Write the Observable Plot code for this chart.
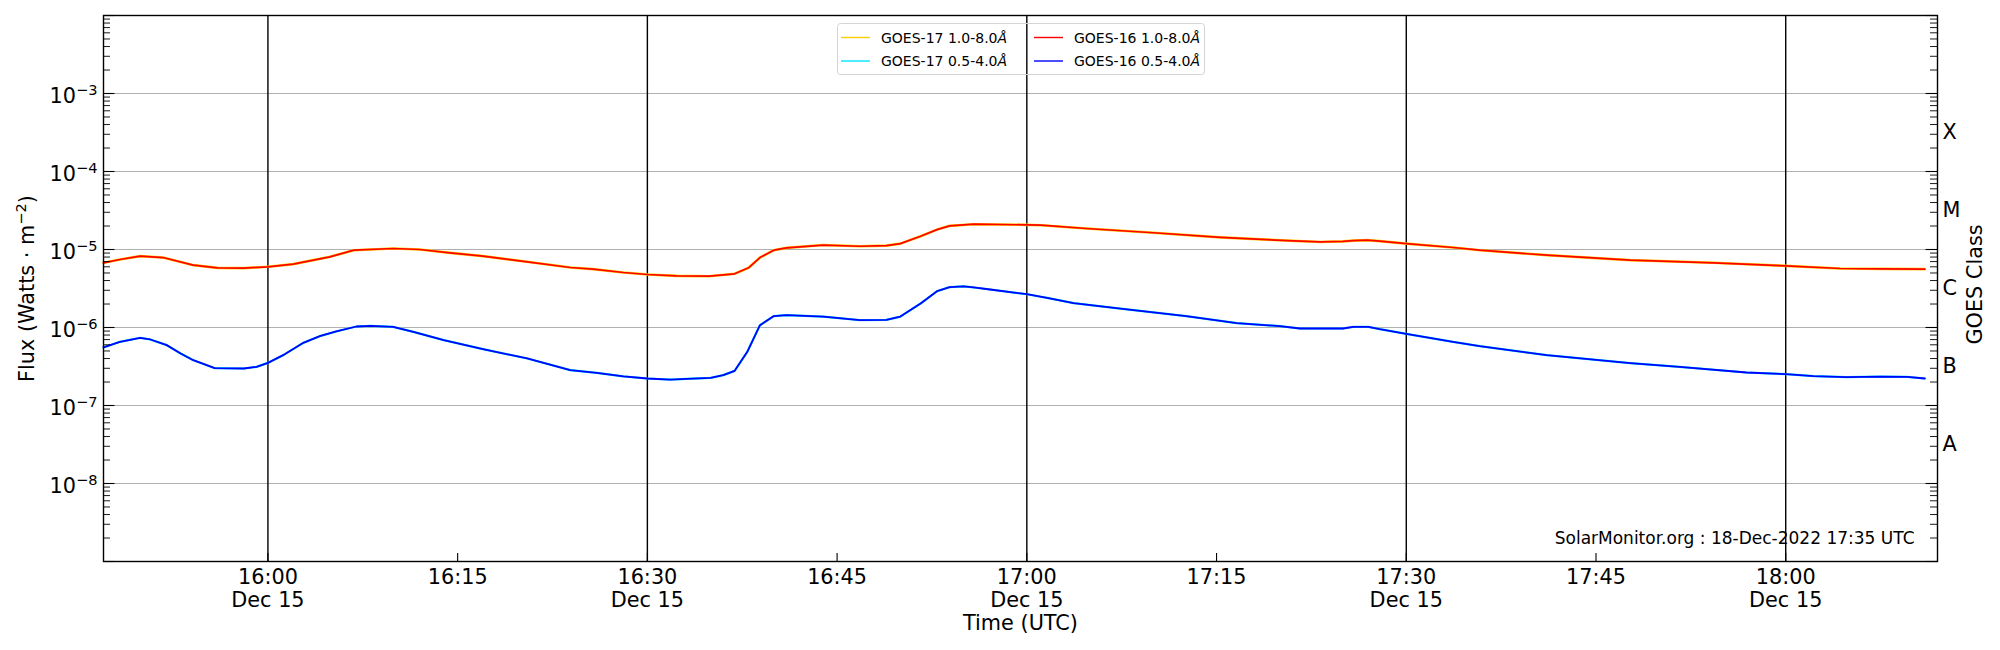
<!DOCTYPE html>
<html><head><meta charset="utf-8">
<script src="https://cdn.jsdelivr.net/npm/d3@7"></script>
<script src="https://cdn.jsdelivr.net/npm/@observablehq/plot@0.6"></script>
<style>
body{margin:0;background:#fff}
#wrap{position:relative;width:2000px;height:650px;font-family:"DejaVu Sans",sans-serif}
#legend{position:absolute;left:837px;top:23px}
</style>
</head><body><div id="wrap"></div>
<script>
// ---------- data ----------
const day = "2022-12-15";
const xDomain = ["15:47:00", "18:12:00"];
const yDomain = [1e-9, 1e-2];

// GOES-16 1.0-8.0 Å (long channel)
const g16LongTimes = ["15:47:00","15:48:18","15:49:54","15:51:42","15:54:06","15:56:00","15:58:06","16:00:00","16:02:00","16:04:54","16:06:48","16:09:54","16:12:00","16:14:24","16:17:00","16:20:30","16:23:54","16:25:42","16:28:06","16:30:00","16:32:18","16:34:54","16:36:54","16:38:00","16:38:54","16:40:00","16:41:00","16:43:54","16:46:48","16:48:54","16:50:00","16:51:36","16:52:54","16:53:54","16:55:48","17:00:00","17:01:06","17:04:42","17:10:00","17:15:18","17:20:36","17:23:12","17:25:00","17:25:48","17:26:54","17:27:54","17:30:00","17:33:42","17:35:48","17:41:06","17:47:42","17:54:18","18:00:00","18:04:18","18:07:30","18:11:00"];
const g16LongFlux = [6.75e-6,7.44e-6,8.22e-6,7.89e-6,6.30e-6,5.82e-6,5.77e-6,6.00e-6,6.49e-6,8.05e-6,9.80e-6,1.03e-5,1.00e-5,9.06e-6,8.22e-6,6.95e-6,5.88e-6,5.60e-6,5.07e-6,4.78e-6,4.59e-6,4.55e-6,4.88e-6,5.82e-6,7.89e-6,9.80e-6,1.05e-5,1.14e-5,1.10e-5,1.12e-5,1.19e-5,1.48e-5,1.80e-5,2.01e-5,2.11e-5,2.07e-5,2.05e-5,1.86e-5,1.64e-5,1.43e-5,1.30e-5,1.25e-5,1.27e-5,1.30e-5,1.32e-5,1.28e-5,1.19e-5,1.06e-5,9.80e-6,8.46e-6,7.30e-6,6.75e-6,6.17e-6,5.71e-6,5.65e-6,5.60e-6];

// GOES-16 0.5-4.0 Å (short channel)
const g16ShortTimes = ["15:47:00","15:48:18","15:49:54","15:50:42","15:52:00","15:53:06","15:54:06","15:55:48","15:58:06","15:59:06","16:00:00","16:01:12","16:02:48","16:04:06","16:05:24","16:07:00","16:08:06","16:09:54","16:11:30","16:13:54","16:17:00","16:20:30","16:23:54","16:26:00","16:28:06","16:30:00","16:31:48","16:33:06","16:35:00","16:36:00","16:36:54","16:37:54","16:38:54","16:40:00","16:41:00","16:43:54","16:46:48","16:48:54","16:50:00","16:51:36","16:52:54","16:53:54","16:55:00","16:55:48","16:57:06","17:00:00","17:01:36","17:03:42","17:07:24","17:12:36","17:16:36","17:20:00","17:21:36","17:25:00","17:25:48","17:27:00","17:27:54","17:30:00","17:33:42","17:35:48","17:41:06","17:47:42","17:51:36","17:56:54","18:00:00","18:02:12","18:04:48","18:07:30","18:09:36","18:11:00"];
const g16ShortFlux = [5.55e-7,6.55e-7,7.38e-7,7.02e-7,5.94e-7,4.65e-7,3.81e-7,3.01e-7,2.98e-7,3.13e-7,3.52e-7,4.42e-7,6.36e-7,7.74e-7,8.89e-7,1.03e-6,1.05e-6,1.02e-6,8.80e-7,6.88e-7,5.28e-7,4.01e-7,2.84e-7,2.62e-7,2.36e-7,2.22e-7,2.15e-7,2.20e-7,2.26e-7,2.45e-7,2.78e-7,4.88e-7,1.07e-6,1.40e-6,1.44e-6,1.38e-6,1.24e-6,1.25e-6,1.38e-6,2.03e-6,2.92e-6,3.29e-6,3.36e-6,3.26e-6,3.07e-6,2.67e-6,2.40e-6,2.05e-6,1.75e-6,1.40e-6,1.14e-6,1.04e-6,9.71e-7,9.71e-7,1.02e-6,1.02e-6,9.53e-7,8.30e-7,6.55e-7,5.77e-7,4.42e-7,3.49e-7,3.13e-7,2.65e-7,2.52e-7,2.38e-7,2.31e-7,2.35e-7,2.33e-7,2.22e-7];

// GOES-17 traces lie on top of the GOES-16 ones at this resolution
const g17LongTimes = g16LongTimes, g17LongFlux = g16LongFlux;
const g17ShortTimes = g16ShortTimes, g17ShortFlux = g16ShortFlux;

const xTickTimes = ["16:00","16:15","16:30","16:45","17:00","17:15","17:30","17:45","18:00"];
const xTickLabels = ["16:00\nDec 15","16:15","16:30\nDec 15","16:45","17:00\nDec 15","17:15","17:30\nDec 15","17:45","18:00\nDec 15"];
const dayLines = ["16:00","16:30","17:00","17:30","18:00"];
const yTickExps = [-8,-7,-6,-5,-4,-3];
const gridFlux = [1e-8,1e-7,1e-6,1e-5,1e-4,1e-3];
const classNames = ["A","B","C","M","X"];
const classPos = [3.16e-8,3.16e-7,3.16e-6,3.16e-5,3.16e-4];
const stamp = "SolarMonitor.org : 18-Dec-2022 17:35 UTC";

// ---------- build ----------
const T = s => new Date(`${day}T${s.length === 5 ? s + ":00" : s}Z`);
const series = (times, flux) => times.map((t, i) => ({t: T(t), v: flux[i]}));
const long16 = series(g16LongTimes, g16LongFlux), short16 = series(g16ShortTimes, g16ShortFlux);
const long17 = series(g17LongTimes, g17LongFlux), short17 = series(g17ShortTimes, g17ShortFlux);

const W = 2000, H = 650, mL = 103, mR = 63, mT = 15, mB = 89;
const pw = W - mL - mR, ph = H - mT - mB;
const allTicks = d3.scaleLog().domain(yDomain).ticks();
const isDecade = v => Math.abs(Math.log10(v) - Math.round(Math.log10(v))) < 1e-6;
const major = allTicks.filter(isDecade), minor = allTicks.filter(v => !isDecade(v));

const chart = Plot.plot({
  width: W, height: H,
  marginLeft: mL, marginRight: mR, marginTop: mT, marginBottom: mB,
  style: {fontFamily: "DejaVu Sans", fontSize: "20.8px", background: "white", color: "black", overflow: "visible"},
  x: {type: "utc", domain: xDomain.map(T), axis: null},
  y: {type: "log", domain: yDomain, axis: null},
  marks: [
    Plot.ruleY(gridFlux, {y: d => d, stroke: "#b0b0b0", strokeWidth: 1.1}),
    Plot.ruleX(dayLines, {x: d => T(d), stroke: "black", strokeWidth: 1.4}),
    Plot.line(long17, {x: "t", y: "v", stroke: "#ffcc00", strokeWidth: 2.6}),
    Plot.line(short17, {x: "t", y: "v", stroke: "#00e5ff", strokeWidth: 2.2}),
    Plot.line(long16, {x: "t", y: "v", stroke: "#ff0000", strokeWidth: 1.7}),
    Plot.line(short16, {x: "t", y: "v", stroke: "#0000ff", strokeWidth: 1.8}),
    // inward ticks
    Plot.tickY(major, {y: d => d, insetRight: pw - 11.5, stroke: "black", strokeWidth: 1.1}),
    Plot.tickY(minor, {y: d => d, insetRight: pw - 7, stroke: "black", strokeWidth: 0.9}),
    Plot.tickY(major, {y: d => d, insetLeft: pw - 11.5, stroke: "black", strokeWidth: 1.1}),
    Plot.tickY(minor, {y: d => d, insetLeft: pw - 7, stroke: "black", strokeWidth: 0.9}),
    Plot.tickX(xTickTimes, {x: d => T(d), insetTop: ph - 8, stroke: "black", strokeWidth: 1.1}),
    Plot.frame({stroke: "black", strokeWidth: 1.4}),
    // labels
    Plot.text(yTickExps, {y: e => 10 ** e, text: e => String(e).replace("-", "\u2212"), frameAnchor: "left", textAnchor: "end", dx: -6, dy: 2.6}),
    Plot.text(xTickTimes, {x: d => T(d), text: (d, i) => xTickLabels[i], frameAnchor: "bottom", lineAnchor: "top", dy: 6.5, lineHeight: 1.1}),
    Plot.text(classPos, {y: d => d, text: (d, i) => classNames[i], frameAnchor: "right", textAnchor: "start", dx: 5}),
    Plot.text(["Time (UTC)"], {text: d => d, frameAnchor: "bottom", lineAnchor: "top", dy: 54}),
    Plot.text(["Flux"], {text: d => d, frameAnchor: "left", textAnchor: "middle", rotate: -90, dx: -76}),
    Plot.text(["GOES Class"], {text: d => d, frameAnchor: "right", textAnchor: "middle", rotate: -90, dx: 38, dy: -4}),
    Plot.text([stamp], {text: d => d, frameAnchor: "bottom-right", textAnchor: "end", dx: -23, dy: -17.4, fontSize: 17})
  ]
});

const NS = "http://www.w3.org/2000/svg";
const tspan = (txt, attrs = {}) => { const s = document.createElementNS(NS, "tspan"); s.textContent = txt; for (const k in attrs) s.setAttribute(k, attrs[k]); return s; };
[...chart.querySelectorAll("text")].filter(t => /^\u2212\d$/.test(t.textContent)).forEach(t => {
  const e = t.textContent; t.textContent = "";
  t.append(tspan("10"), tspan(e, {dy: "-8", "font-size": "14.6"}));
});
[...chart.querySelectorAll("text")].filter(t => t.textContent === "Flux").forEach(t => {
  t.textContent = "";
  t.append(tspan("Flux (Watts \u00b7 m"), tspan("\u22122", {dy: "-8", "font-size": "14.6"}), tspan(")", {dy: "8"}));
});

const wrap = document.getElementById("wrap");
wrap.append(chart);

// legend (inside the axes, top centre)
const legendItems = [
  {sat: "GOES-17", band: "1.0-8.0", color: "#ffcc00", col: 0, row: 0},
  {sat: "GOES-17", band: "0.5-4.0", color: "#00e5ff", col: 0, row: 1},
  {sat: "GOES-16", band: "1.0-8.0", color: "#ff0000", col: 1, row: 0},
  {sat: "GOES-16", band: "0.5-4.0", color: "#0000ff", col: 1, row: 1}
];
const lg = d3.select(wrap).append("svg").attr("id", "legend").attr("width", 369).attr("height", 53)
  .style("font-family", "DejaVu Sans").style("font-size", "14px");
lg.append("rect").attr("x", 0.5).attr("y", 0.5).attr("width", 367).attr("height", 51).attr("rx", 3)
  .attr("fill", "none").attr("stroke", "#d4d4d4");
const colX = [4, 197];
legendItems.forEach(d => {
  const x0 = colX[d.col], yl = 14.5 + d.row * 23.5;
  lg.append("line").attr("x1", x0).attr("x2", x0 + 29).attr("y1", yl).attr("y2", yl).attr("stroke", d.color).attr("stroke-width", 1.4);
  const t = lg.append("text").attr("x", x0 + 40).attr("y", yl + 5);
  t.append("tspan").text(`${d.sat} ${d.band}`);
  t.append("tspan").attr("font-style", "italic").text("\u00c5");
});
</script>
</body></html>
